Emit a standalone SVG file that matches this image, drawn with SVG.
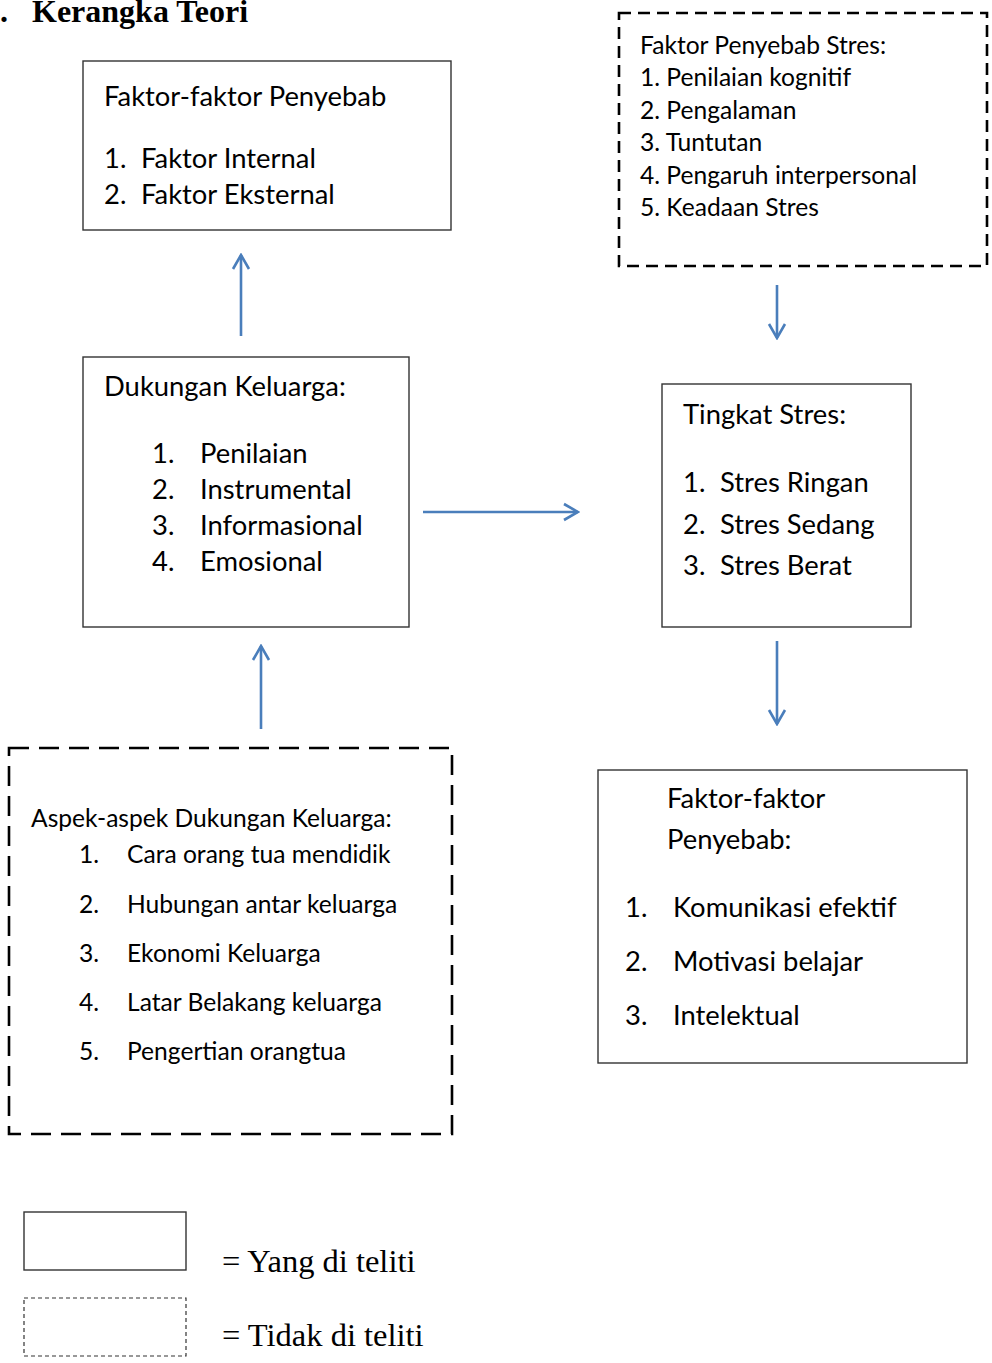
<svg xmlns="http://www.w3.org/2000/svg" width="992" height="1363" viewBox="0 0 992 1363">
<style>
.bx{fill:#fff;stroke:#333;stroke-width:1.4}
.dsh{fill:none;stroke:#000;stroke-width:2.6;stroke-dasharray:12 7}
.dsh2{fill:none;stroke:#000;stroke-width:2.6;stroke-dasharray:20 10}
.t{font-family:Lato,"Open Sans",sans-serif;fill:#000}
.l{font-size:27.4px}
.s{font-size:24.6px}
.tm{font-family:"Liberation Serif","Times New Roman",serif;fill:#000}
.ar{stroke:#4a7ebb;stroke-width:2.6;fill:none}
</style>
<defs>
<marker id="ah" viewBox="0 0 20 20" refX="18" refY="10" markerWidth="20" markerHeight="20" markerUnits="userSpaceOnUse" orient="auto">
<path d="M4,2 L18,10 L4,18" fill="none" stroke="#4a7ebb" stroke-width="2.6"/>
</marker>
</defs>
<rect width="992" height="1363" fill="#fff"/>
<g id="title">
<text class="tm" x="0" y="22" font-size="32" font-weight="bold">.</text>
<text class="tm" x="32" y="22" font-size="32" font-weight="bold">Kerangka Teori</text>
</g>
<g id="n-faktor-penyebab">
<rect class="bx" x="83" y="61" width="368" height="169"/>
<text class="t l" x="104" y="106">Faktor-faktor Penyebab</text>
<text class="t l" x="104" y="168">1.</text><text class="t l" x="141" y="168">Faktor Internal</text>
<text class="t l" x="104" y="204">2.</text><text class="t l" x="141" y="204">Faktor Eksternal</text>
</g>
<g id="n-penyebab-stres">
<rect class="dsh" x="619" y="13" width="368" height="253"/>
<text class="t s" x="640" y="54">Faktor Penyebab Stres:</text>
<text class="t s" x="640" y="86">1. Penilaian kognitif</text>
<text class="t s" x="640" y="119">2. Pengalaman</text>
<text class="t s" x="640" y="151">3. Tuntutan</text>
<text class="t s" x="640" y="184">4. Pengaruh interpersonal</text>
<text class="t s" x="640" y="216">5. Keadaan Stres</text>
</g>
<g id="n-dukungan">
<rect class="bx" x="83" y="357" width="326" height="270"/>
<text class="t l" x="104" y="396">Dukungan Keluarga:</text>
<text class="t l" x="152" y="463">1.</text><text class="t l" x="200" y="463">Penilaian</text>
<text class="t l" x="152" y="499">2.</text><text class="t l" x="200" y="499">Instrumental</text>
<text class="t l" x="152" y="535">3.</text><text class="t l" x="200" y="535">Informasional</text>
<text class="t l" x="152" y="571">4.</text><text class="t l" x="200" y="571">Emosional</text>
</g>
<g id="n-tingkat-stres">
<rect class="bx" x="662" y="384" width="249" height="243"/>
<text class="t l" x="683" y="424">Tingkat Stres:</text>
<text class="t l" x="683" y="492">1.</text><text class="t l" x="720" y="492">Stres Ringan</text>
<text class="t l" x="683" y="534">2.</text><text class="t l" x="720" y="534">Stres Sedang</text>
<text class="t l" x="683" y="575">3.</text><text class="t l" x="720" y="575">Stres Berat</text>
</g>
<g id="n-aspek">
<rect class="dsh2" x="9" y="748" width="443" height="386"/>
<text class="t s" x="31" y="827">Aspek-aspek Dukungan Keluarga:</text>
<text class="t s" x="79" y="863">1.</text><text class="t s" x="127" y="863">Cara orang tua mendidik</text>
<text class="t s" x="79" y="913">2.</text><text class="t s" x="127" y="913">Hubungan antar keluarga</text>
<text class="t s" x="79" y="962">3.</text><text class="t s" x="127" y="962">Ekonomi Keluarga</text>
<text class="t s" x="79" y="1011">4.</text><text class="t s" x="127" y="1011">Latar Belakang keluarga</text>
<text class="t s" x="79" y="1060">5.</text><text class="t s" x="127" y="1060">Pengertian orangtua</text>
</g>
<g id="n-faktor-akhir">
<rect class="bx" x="598" y="770" width="369" height="293"/>
<text class="t l" x="667" y="808">Faktor-faktor</text>
<text class="t l" x="667" y="849">Penyebab:</text>
<text class="t l" x="625" y="917">1.</text><text class="t l" x="673" y="917">Komunikasi efektif</text>
<text class="t l" x="625" y="971">2.</text><text class="t l" x="673" y="971">Motivasi belajar</text>
<text class="t l" x="625" y="1025">3.</text><text class="t l" x="673" y="1025">Intelektual</text>
</g>
<g id="connectors">
<line class="ar" x1="241" y1="336" x2="241" y2="255" marker-end="url(#ah)"/>
<line class="ar" x1="777" y1="285" x2="777" y2="338" marker-end="url(#ah)"/>
<line class="ar" x1="423" y1="512" x2="578" y2="512" marker-end="url(#ah)"/>
<line class="ar" x1="261" y1="729" x2="261" y2="646" marker-end="url(#ah)"/>
<line class="ar" x1="777" y1="641" x2="777" y2="724" marker-end="url(#ah)"/>
</g>
<g id="legend">
<rect class="bx" x="24" y="1212" width="162" height="58"/>
<rect x="24" y="1298" width="162" height="58" fill="none" stroke="#333" stroke-width="1.2" stroke-dasharray="4 3"/>
<text class="tm" x="222" y="1272" font-size="32.5">= Yang di teliti</text>
<text class="tm" x="222" y="1346" font-size="32.5">= Tidak di teliti</text>
</g>
</svg>
